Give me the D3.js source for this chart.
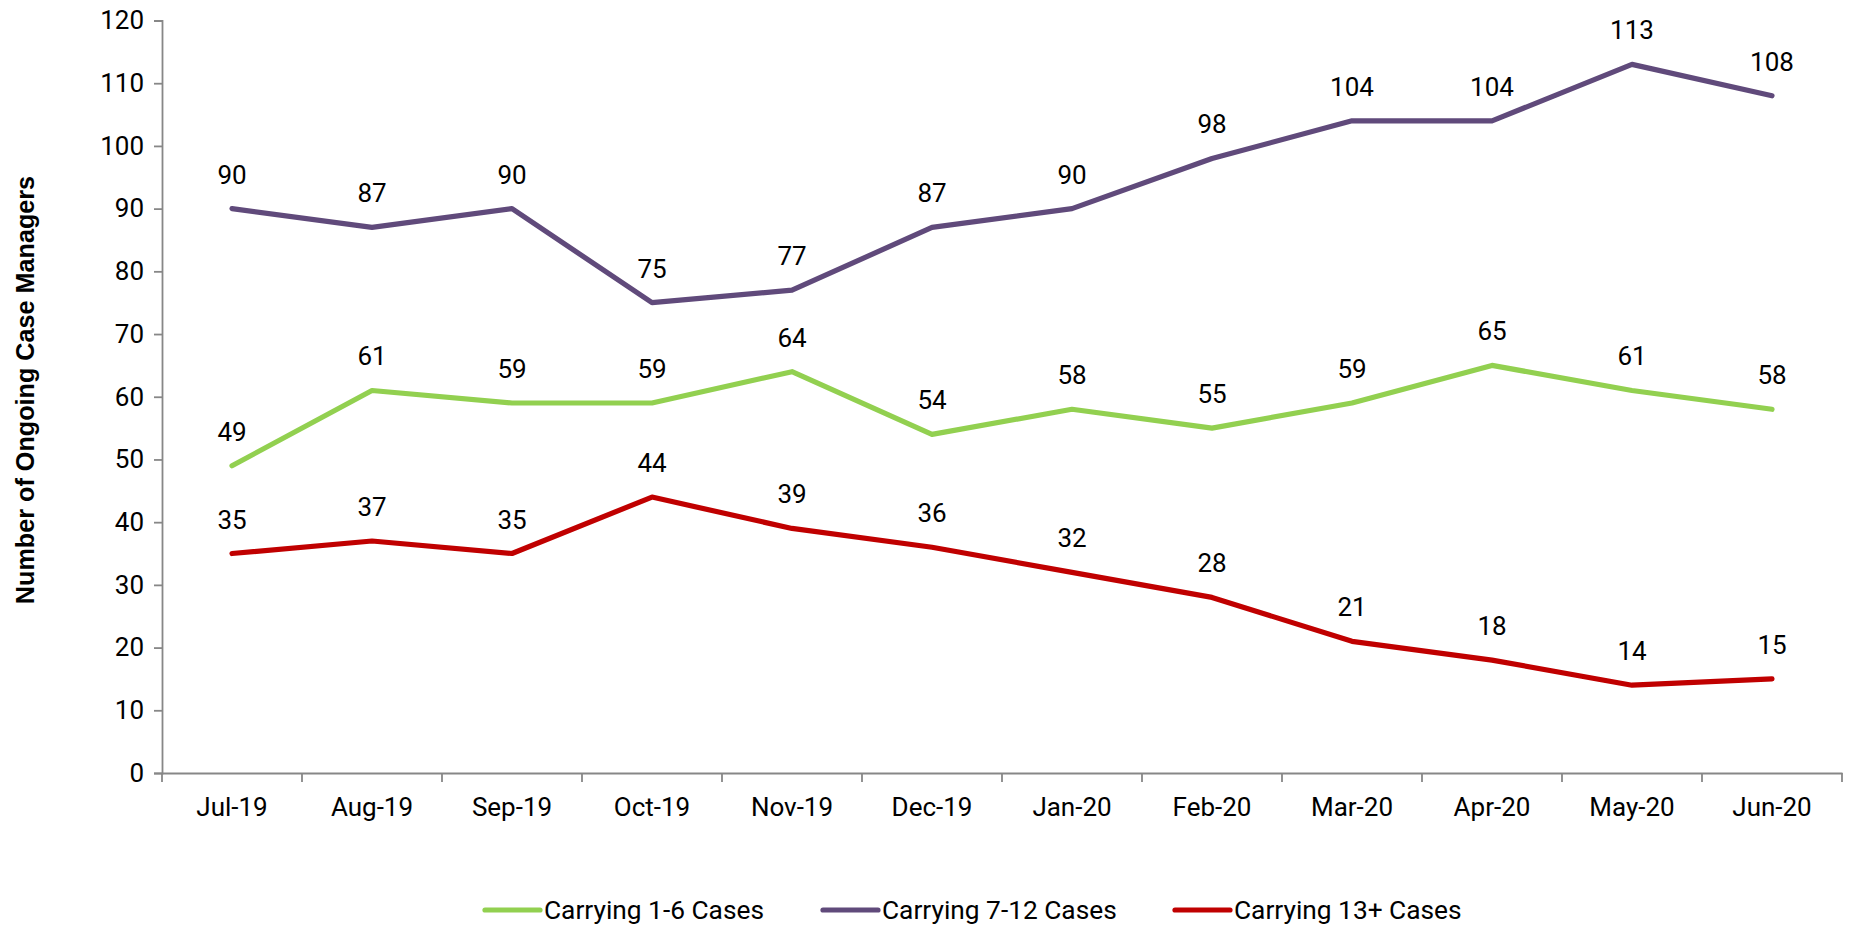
<!DOCTYPE html>
<html><head><meta charset="utf-8">
<script src="https://cdn.jsdelivr.net/npm/d3@7"></script>
<style>body{margin:0;background:#fff}svg{display:block}</style>
</head><body>
<script>
const months = ["Jul-19","Aug-19","Sep-19","Oct-19","Nov-19","Dec-19","Jan-20","Feb-20","Mar-20","Apr-20","May-20","Jun-20"];
const cases1to6 = [49,61,59,59,64,54,58,55,59,65,61,58];
const cases7to12 = [90,87,90,75,77,87,90,98,104,104,113,108];
const cases13plus = [35,37,35,44,39,36,32,28,21,18,14,15];
const seriesNames = ["Carrying 1-6 Cases","Carrying 7-12 Cases","Carrying 13+ Cases"];
const yTicks = [0,10,20,30,40,50,60,70,80,90,100,110,120];

(function(){
const W = 1851, H = 927;
const colors = ["#92D050","#604A7B","#C00000"];
const series = [cases1to6, cases7to12, cases13plus];
const svg = d3.select("body").append("svg").attr("width",W).attr("height",H);
const pLeft = 162, pRight = 1842, pTop = 20.5, pBottom = 773;
const x = d3.scaleBand().domain(months).range([pLeft,pRight]);
const y = d3.scaleLinear().domain([0,120]).range([pBottom,pTop]);
const font = "Roboto";
const axisColor = "#878787";

// y axis
const yAxis = svg.append("g").attr("transform",`translate(${pLeft},0)`)
  .call(d3.axisLeft(y).tickValues(yTicks).tickSize(8).tickPadding(10));
yAxis.select(".domain").attr("stroke",axisColor).attr("stroke-width",1.8);
yAxis.selectAll(".tick line").attr("stroke",axisColor).attr("stroke-width",1.8);
yAxis.selectAll(".tick text").attr("font-family",font).attr("font-size",26).attr("fill","#000");

// x axis
const xAxis = svg.append("g").attr("transform",`translate(0,${pBottom})`)
  .call(d3.axisBottom(x).tickSize(0).tickPadding(0));
xAxis.select(".domain").attr("stroke",axisColor).attr("stroke-width",1.8);
xAxis.selectAll(".tick text").attr("font-family",font).attr("font-size",26).attr("fill","#000")
  .attr("dy",null).attr("y",43);
const bounds = months.map(m=>x(m)).concat([pRight]);
svg.append("g").selectAll("line").data(bounds).join("line")
  .attr("x1",d=>d).attr("x2",d=>d).attr("y1",pBottom).attr("y2",pBottom+9)
  .attr("stroke",axisColor).attr("stroke-width",1.8);

// y title
svg.append("text").attr("transform","translate(33.5,390) rotate(-90)")
  .attr("text-anchor","middle").attr("font-family","Liberation Sans, Arial, sans-serif")
  .attr("font-weight","bold").attr("font-size",25.2).attr("fill","#000")
  .text("Number of Ongoing Case Managers");

const cx = d => x(d) + x.bandwidth()/2;
const line = d3.line().x((d,i)=>cx(months[i])).y(d=>y(d));
series.forEach((s,k)=>{
  svg.append("path").datum(s).attr("d",line).attr("fill","none")
    .attr("stroke",colors[k]).attr("stroke-width",5.2)
    .attr("stroke-linecap","round").attr("stroke-linejoin","round");
});
series.forEach((s,k)=>{
  svg.append("g").selectAll("text").data(s).join("text")
    .attr("x",(d,i)=>cx(months[i])).attr("y",d=>y(d)-25)
    .attr("text-anchor","middle").attr("font-family",font).attr("font-size",26).attr("fill","#000")
    .text(d=>d);
});

// legend
const legX = [485, 823, 1175];
seriesNames.forEach((n,k)=>{
  svg.append("line").attr("x1",legX[k]).attr("x2",legX[k]+55).attr("y1",910).attr("y2",910)
    .attr("stroke",colors[k]).attr("stroke-width",5.2).attr("stroke-linecap","round");
  svg.append("text").attr("x",legX[k]+59).attr("y",919).attr("font-family",font)
    .attr("font-size",26.3).attr("fill","#000").text(n);
});
})();
</script>
</body></html>
